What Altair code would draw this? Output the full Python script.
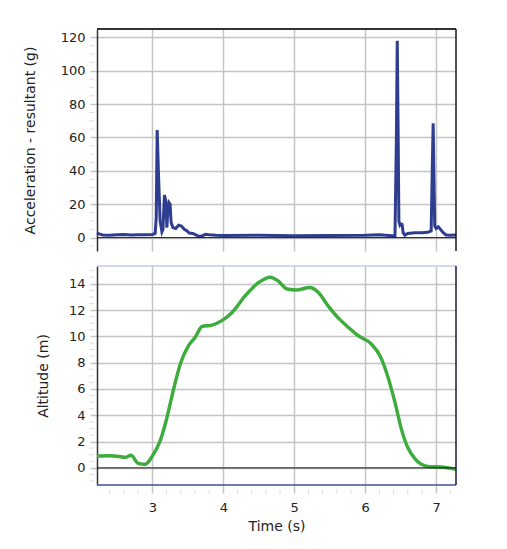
import altair as alt
import pandas as pd

# ---------------- data ----------------
acc_time = [2.22, 2.25, 2.3, 2.4, 2.5, 2.6, 2.7, 2.8, 2.9, 3.0, 3.04, 3.055, 3.068, 3.085,
            3.11, 3.135, 3.15, 3.17, 3.19, 3.205, 3.22, 3.235, 3.25, 3.265, 3.29, 3.33,
            3.37, 3.41, 3.45, 3.49, 3.52, 3.57, 3.62, 3.66, 3.7, 3.75, 3.8, 3.9, 4.0,
            4.5, 5.0, 5.5, 6.0, 6.2, 6.38, 6.42, 6.44, 6.452, 6.465, 6.475, 6.49, 6.505,
            6.52, 6.535, 6.56, 6.6, 6.7, 6.8, 6.88, 6.93, 6.945, 6.958, 6.97, 6.98, 7.0,
            7.03, 7.06, 7.1, 7.14, 7.2, 7.28]
acc_value = [3.0, 2.2, 1.6, 1.5, 1.8, 1.9, 1.6, 1.7, 1.8, 1.9, 2.5, 12, 64.5, 40,
             10, 3.5, 5, 25.5, 22, 6, 18, 21, 20, 9, 6, 5.5,
             7.5, 7.0, 5.0, 4.0, 2.8, 2.5, 1.5, 0.7, 1.0, 2.0, 1.8, 1.5, 1.3,
             1.4, 1.2, 1.3, 1.4, 1.8, 1.2, 1.0, 60, 118, 60, 10, 7.5, 8.2,
             8.0, 3, 1.5, 2.5, 3.0, 3.0, 3.2, 4, 40, 68.5, 35, 7, 5.5,
             6.5, 5, 3, 1.6, 1.5, 1.6]

alt_time = [2.22, 2.4, 2.55, 2.62, 2.7, 2.8, 2.9, 3.0, 3.11, 3.2, 3.3, 3.4, 3.51, 3.6,
            3.7, 3.84, 3.98, 4.12, 4.31, 4.5, 4.66, 4.77, 4.9, 5.03, 5.22, 5.34, 5.48,
            5.62, 5.76, 5.9, 6.09, 6.21, 6.3, 6.42, 6.51, 6.6, 6.7, 6.79, 6.91, 7.07, 7.28]
alt_value = [0.9, 0.92, 0.85, 0.8, 0.96, 0.35, 0.28, 0.9, 2.05, 3.7, 6.0, 8.0, 9.3, 9.9,
             10.75, 10.86, 11.2, 11.8, 13.1, 14.1, 14.5, 14.23, 13.6, 13.52, 13.72, 13.34, 12.3,
             11.4, 10.7, 10.05, 9.4, 8.5, 7.25, 4.97, 2.95, 1.55, 0.71, 0.28, 0.1, 0.07, -0.1]

x_ticks = [3, 4, 5, 6, 7]
x_minor = [2.4, 2.6, 2.8, 3.2, 3.4, 3.6, 3.8, 4.2, 4.4, 4.6, 4.8, 5.2, 5.4, 5.6, 5.8,
           6.2, 6.4, 6.6, 6.8, 7.2]
acc_ticks = [0, 20, 40, 60, 80, 100, 120]
acc_minor = [-5, 5, 10, 15, 25, 30, 35, 45, 50, 55, 65, 70, 75, 85, 90, 95, 105, 110, 115]
alt_ticks = [0, 2, 4, 6, 8, 10, 12, 14]
alt_minor = [-1, -0.5, 0.5, 1, 1.5, 2.5, 3, 3.5, 4.5, 5, 5.5, 6.5, 7, 7.5, 8.5, 9, 9.5,
             10.5, 11, 11.5, 12.5, 13, 13.5, 14.5, 15]

# ---------------- layout ----------------
W = 359
H1 = 222
H2 = 219
GRID = "#c4c4c4"
MINOR = "#dedede"
FONT = "DejaVu Sans"

xscale = alt.Scale(domain=[2.22, 7.28], nice=False, zero=False)
yscale1 = alt.Scale(domain=[-8, 125], nice=False, zero=False)
yscale2 = alt.Scale(domain=[-1.3, 15.35], nice=False, zero=False)
one = pd.DataFrame({"d": [0]})
zero_df = pd.DataFrame({"y": [0]})


def yaxis(values, title, tpad):
    return alt.Axis(values=values, title=title, titlePadding=tpad, grid=True,
                    gridColor=GRID, gridWidth=1.5, tickColor=GRID, tickSize=7,
                    tickWidth=1.5, labelPadding=5, domainColor="#333333",
                    domainWidth=1.5, format="d", labelOverlap=False)


x_top_axis = alt.Axis(values=x_ticks, labels=False, ticks=False, domain=False,
                      grid=True, gridColor=GRID, gridWidth=1.5, title=None)
x_bot_axis = alt.Axis(values=x_ticks, title="Time (s)", grid=True, format="d",
                      gridColor=GRID, gridWidth=1.5, tickColor=GRID, tickSize=8,
                      tickWidth=1.5, labelPadding=8, titlePadding=5,
                      domain=False, labelOverlap=False)
y_top_axis = yaxis(acc_ticks, "Acceleration - resultant (g)", 23)
y_bot_axis = yaxis(alt_ticks, "Altitude (m)", 18)

# ---- top panel ----
acc_df = pd.DataFrame({"t": acc_time, "g": acc_value})

top_line = alt.Chart(acc_df).mark_line(color="#2f3d91", strokeWidth=3).encode(
    x=alt.X("t:Q", scale=xscale, axis=x_top_axis),
    y=alt.Y("g:Q", scale=yscale1, axis=y_top_axis),
)
top_zero = alt.Chart(zero_df).mark_rule(color="#111111", strokeWidth=1).encode(
    y=alt.Y("y:Q", scale=yscale1, axis=y_top_axis))
top_minor = alt.Chart(pd.DataFrame({"v": acc_minor})).mark_rule(
    color=MINOR, strokeWidth=1).encode(
    y=alt.Y("v:Q", scale=yscale1, axis=y_top_axis), x=alt.value(-8), x2=alt.value(-3))
top_border = alt.Chart(one).mark_rule(color="#333333", strokeWidth=2).encode(
    x=alt.value(0), x2=alt.value(W), y=alt.value(0))
top_right = alt.Chart(one).mark_rule(color="#1a1a1a", strokeWidth=1.5).encode(
    x=alt.value(W), y=alt.value(0), y2=alt.value(H1))

top = alt.layer(top_line, top_minor, top_zero, top_border, top_right).properties(
    width=W, height=H1)

# ---- bottom panel ----
alt_df = pd.DataFrame({"t": alt_time, "m": alt_value})

bot_line = alt.Chart(alt_df).mark_line(color="#3cac3c", strokeWidth=3.4,
                                        interpolate="monotone").encode(
    x=alt.X("t:Q", scale=xscale, axis=x_bot_axis),
    y=alt.Y("m:Q", scale=yscale2, axis=y_bot_axis),
)
bot_zero = alt.Chart(zero_df).mark_rule(color="#111111", strokeWidth=1).encode(
    y=alt.Y("y:Q", scale=yscale2, axis=y_bot_axis))
bot_yminor = alt.Chart(pd.DataFrame({"v": alt_minor})).mark_rule(
    color=MINOR, strokeWidth=1).encode(
    y=alt.Y("v:Q", scale=yscale2, axis=y_bot_axis), x=alt.value(-8), x2=alt.value(-3))
bot_xminor = alt.Chart(pd.DataFrame({"v": x_minor})).mark_rule(
    color=MINOR, strokeWidth=1).encode(
    x=alt.X("v:Q", scale=xscale, axis=x_bot_axis), y=alt.value(H2 + 4),
    y2=alt.value(H2 + 9))
bot_top = alt.Chart(one).mark_rule(color="#c5c8ec", strokeWidth=1.5).encode(
    x=alt.value(0), x2=alt.value(W), y=alt.value(0))
bot_bottom = alt.Chart(one).mark_rule(color="#3f4f9a", strokeWidth=1.5).encode(
    x=alt.value(0), x2=alt.value(W), y=alt.value(H2))
bot_right = alt.Chart(one).mark_rule(color="#1a1a3a", strokeWidth=1.5).encode(
    x=alt.value(W), y=alt.value(0), y2=alt.value(H2))

bottom = alt.layer(bot_line, bot_yminor, bot_xminor, bot_zero, bot_top, bot_bottom,
                   bot_right).properties(width=W, height=H2)

chart = alt.vconcat(top, bottom, spacing=13).properties(
    padding={"left": 15, "top": 20, "right": 5, "bottom": 5}
).configure_view(stroke=None).configure_axis(
    labelFont=FONT, titleFont=FONT, labelFontSize=13, titleFontSize=14,
    titleFontWeight="normal", labelColor="#222222", titleColor="#222222"
)

chart.save("out.html", embed_options={"renderer": "svg", "actions": False})
